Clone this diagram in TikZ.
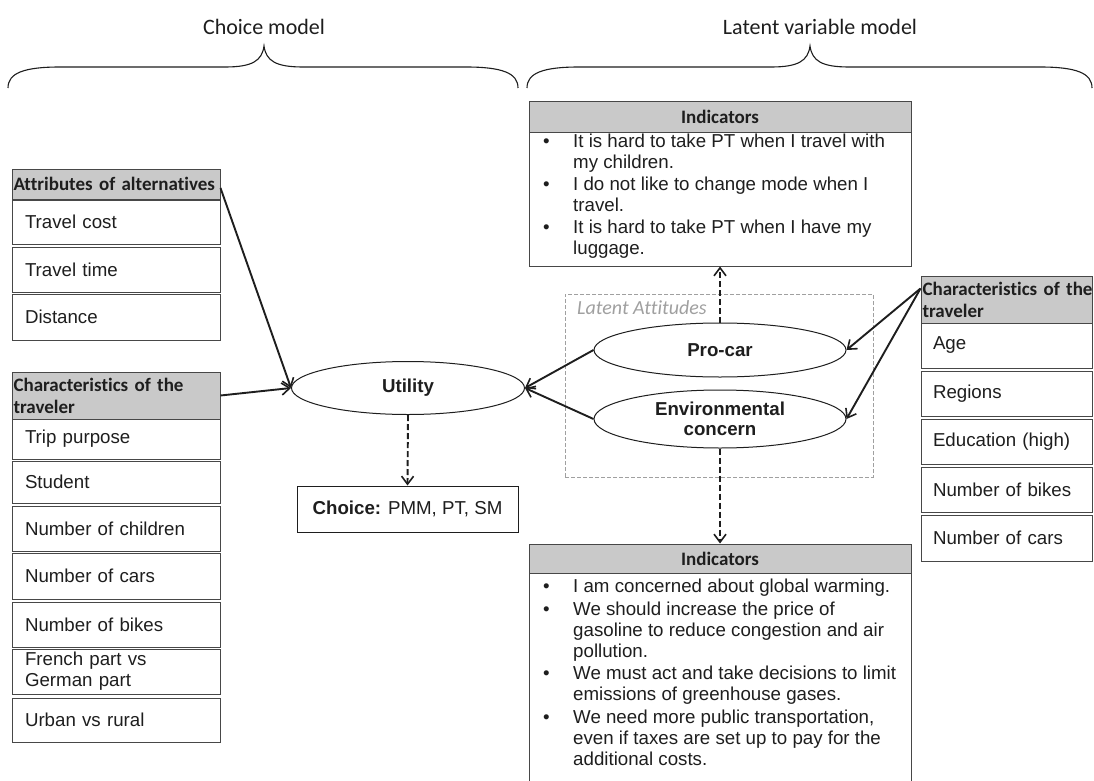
\documentclass[tikz,border=0pt]{standalone}
\usepackage{fontspec}
\setmainfont{Liberation Sans}
\newfontfamily\calib[Ligatures=NoCommon]{Carlito}
\usetikzlibrary{shapes.geometric,arrows.meta}
\definecolor{txt}{HTML}{1E1E1E}
\definecolor{hdr}{HTML}{C9C9C9}
\definecolor{brd}{HTML}{474747}
\definecolor{lat}{HTML}{A0A0A0}
\definecolor{ink}{HTML}{1E1E1E}
\tikzset{
  bodyfont/.style={font=\fontsize{18.7}{21}\selectfont},
  lcell/.style={draw=brd, line width=1pt, fill=white, text=txt, minimum width=208pt, text width=182pt, inner xsep=13pt, inner ysep=0pt, align=left, bodyfont},
  rcell/.style={draw=brd, line width=1pt, fill=white, text=txt, minimum width=171pt, text width=147pt, inner xsep=12pt, inner ysep=0pt, align=left, bodyfont},
  lhdr/.style={draw=brd, line width=1pt, fill=hdr, text=txt, minimum width=208pt, text width=205pt, inner xsep=1.5pt, inner ysep=0pt, align=left, font=\calib\bfseries\fontsize{19}{22}\selectfont},
  rhdr/.style={draw=brd, line width=1pt, fill=hdr, text=txt, minimum width=171pt, text width=168pt, inner xsep=1.5pt, inner ysep=0pt, align=left, font=\calib\bfseries\fontsize{19}{22}\selectfont},
  ihdr/.style={draw=brd, line width=1pt, fill=hdr, text=txt, minimum width=382pt, inner sep=0pt, align=center, font=\calib\bfseries\fontsize{19}{22}\selectfont},
  ibox/.style={draw=brd, line width=1pt, fill=white, minimum width=382pt, inner sep=0pt},
  itext/.style={anchor=west, inner sep=0pt, text=txt, align=left, bodyfont},
  ell/.style={ellipse, draw=ink, line width=1pt, fill=white, text=txt, inner sep=0pt, align=center, font=\bfseries\fontsize{18.7}{20}\selectfont},
  arr/.style={draw=ink, line width=1.9pt, -{Straight Barb[length=8pt,width=12pt,line width=1.6pt]}},
  darr/.style={arr, dash pattern=on 6pt off 3pt},
  brace/.style={draw=ink, line width=1.1pt},
  toplabel/.style={text=txt, font=\calib\fontsize{22}{26}\selectfont},
}
\newcommand{\bl}{\makebox[30pt][l]{\textbullet}}
\newcommand{\ct}{\hspace*{30pt}}
\begin{document}
\begin{tikzpicture}[x=1pt,y=-1pt]
\useasboundingbox (0,0) rectangle (1094,781);
\clip (0,0) rectangle (1094,781);
\fill[white] (0,0) rectangle (1094,781);

% top labels and braces
\node[toplabel] (lchoice) at (264,27) {Choice model};
\node[toplabel] (llatent) at (820,27) {Latent variable model};
\path[brace] (8,88) .. controls (8,73) and (24,67) .. (60,67) -- (225,67)
  .. controls (252,67) and (262,61) .. (264,46)
  .. controls (266,61) and (276,67) .. (303,67) -- (466,67)
  .. controls (502,67) and (518,73) .. (518,88);
\path[brace] (527,88) .. controls (527,73) and (543,67) .. (579,67) -- (771,67)
  .. controls (798,67) and (808,61) .. (810,46)
  .. controls (812,61) and (822,67) .. (849,67) -- (1040,67)
  .. controls (1076,67) and (1092,73) .. (1092,88);

% left column: attributes
\node[lhdr, minimum height=30pt] (ah) at (116,184) {\mbox{Attributes of alternatives}};
\node[lcell, minimum height=44pt] (a1) at (116,222) {Travel cost};
\node[lcell, minimum height=45pt] (a2) at (116,269.5) {Travel time};
\node[lcell, minimum height=46pt] (a3) at (116,317) {Distance};

% left column: characteristics
\node[lhdr, minimum height=47pt] (ch) at (116,395.5) {\mbox{Characteristics of the}\\traveler};
\node[lcell, minimum height=40pt] (c1) at (116,439) {Trip purpose};
\node[lcell, minimum height=42pt] (c2) at (116,482) {Student};
\node[lcell, minimum height=45pt] (c3) at (116,528.5) {Number of children};
\node[lcell, minimum height=46pt] (c4) at (116,576) {Number of cars};
\node[lcell, minimum height=45pt] (c5) at (116,624.5) {Number of bikes};
\node[lcell, minimum height=45pt] (c6) at (116,671.5) {French part vs\\German part};
\node[lcell, minimum height=44pt] (c7) at (116,720) {Urban vs rural};

% right column
\node[rhdr, minimum height=47pt] (rh) at (1006.5,299.5) {\mbox{Characteristics of the}\\traveler};
\node[rcell, minimum height=45pt] (r1) at (1006.5,345.5) {Age};
\node[rcell, minimum height=45pt] (r2) at (1006.5,393.5) {Regions};
\node[rcell, minimum height=45pt] (r3) at (1006.5,441.5) {Education (high)};
\node[rcell, minimum height=45pt] (r4) at (1006.5,489.5) {Number of bikes};
\node[rcell, minimum height=46pt] (r5) at (1006.5,538) {Number of cars};

% latent attitudes box
\node[draw=lat, line width=0.8pt, dash pattern=on 4pt off 2pt, minimum width=308pt, minimum height=183pt, inner sep=0pt] (latbox) at (719,385.5) {};
\node[anchor=west, inner sep=0pt, text=lat, font=\calib\itshape\fontsize{20}{24}\selectfont] (latlab) at (577,308) {Latent Attitudes};

% ellipses
\node[ell, minimum width=233pt, minimum height=53pt] (util) at (408,388) {Utility};
\node[ell, minimum width=252pt, minimum height=54pt] (pro) at (720,350) {Pro-car};
\node[ell, minimum width=252pt, minimum height=58pt] (env) at (720,419) {Environmental\\concern};

% choice
\node[draw=ink, line width=1pt, fill=white, text=txt, minimum width=221pt, minimum height=46pt, inner sep=0pt, bodyfont] (choice) at (407.5,509) {\textbf{Choice:} PMM, PT, SM};

% top indicators
\node[ihdr, minimum height=30pt] (ih1) at (720,117) {Indicators};
\node[ibox, minimum height=134pt] (ib1) at (720,199) {};
\node[itext] (it1) at (543,196.5) {%
\bl It is hard to take PT when I travel with\\
\ct my children.\\[1pt]
\bl I do not like to change mode when I\\
\ct travel.\\[1pt]
\bl It is hard to take PT when I have my\\
\ct luggage.};

% bottom indicators
\node[ihdr, minimum height=29pt] (ih2) at (720,558.5) {Indicators};
\node[ibox, minimum height=217pt] (ib2) at (720,681.5) {};
\node[itext] (it2) at (543,672.5) {%
\bl I am concerned about global warming.\\[1.5pt]
\bl We should increase the price of\\
\ct gasoline to reduce congestion and air\\
\ct pollution.\\[1.5pt]
\bl We must act and take decisions to limit\\
\ct emissions of greenhouse gases.\\[1.5pt]
\bl We need more public transportation,\\
\ct even if taxes are set up to pay for the\\
\ct additional costs.};

% connectors
\draw[arr] ([yshift=-4pt]ah.east) -- (util.west);
\draw[arr] (ch.east) -- (util.west);
\draw[arr] (pro.west) -- (util.east);
\draw[arr] (env.west) -- (util.east);
\draw[arr] ([yshift=11pt]rh.west) -- (pro.east);
\draw[arr] ([yshift=11pt]rh.west) -- (env.east);
\draw[darr] (util.south) -- (choice.north);
\draw[darr] (pro.north) -- (ib1.south);
\draw[darr] (env.south) -- (ih2.north);
\end{tikzpicture}
\end{document}
